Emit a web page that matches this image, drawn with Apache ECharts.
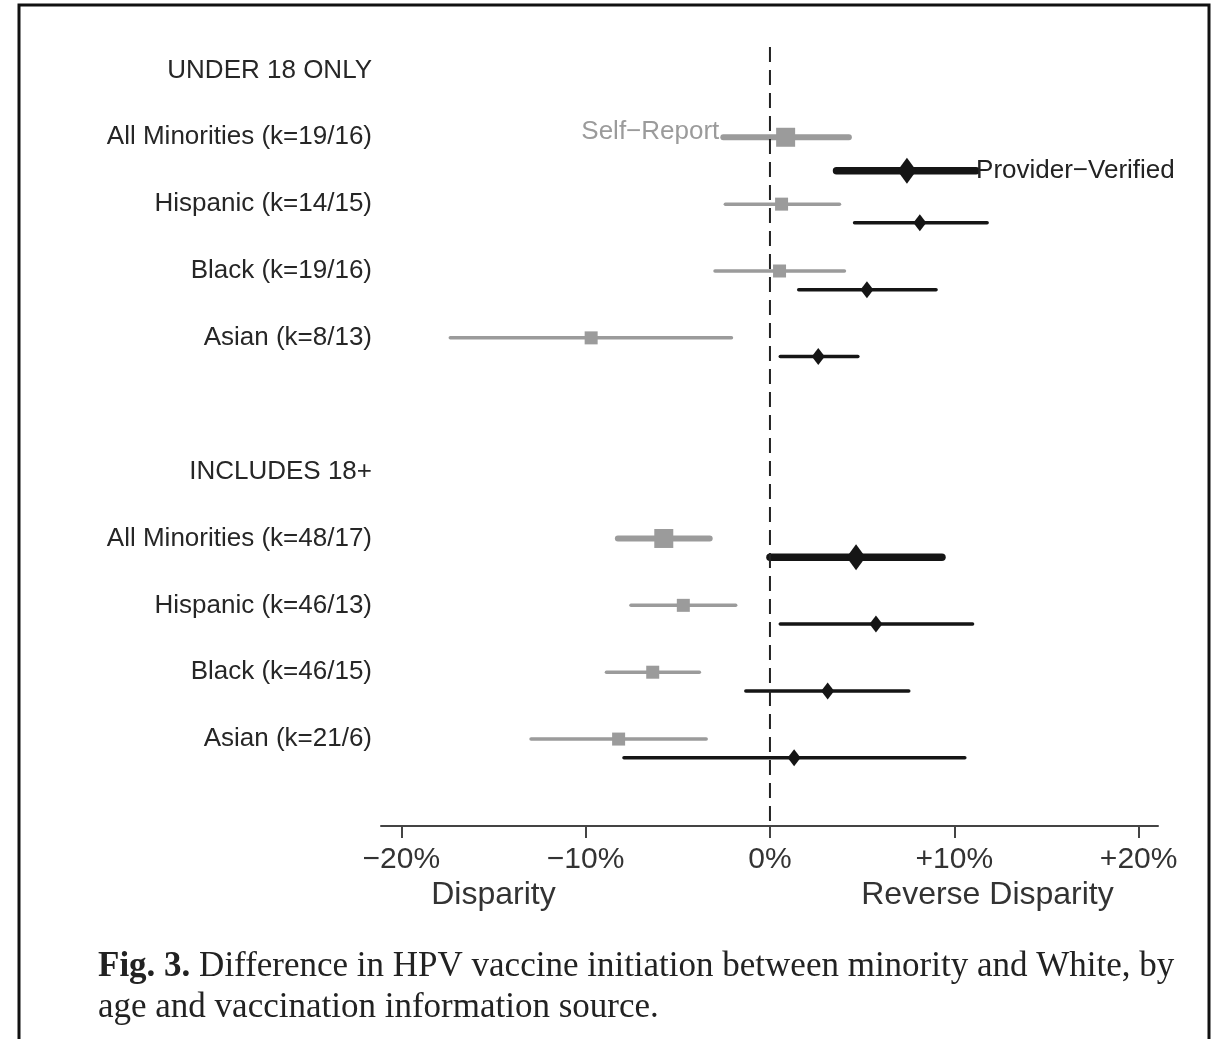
<!DOCTYPE html>
<html>
<head>
<meta charset="utf-8">
<script src="https://cdn.jsdelivr.net/npm/echarts@6/dist/echarts.min.js"></script>
<style>
  html, body { margin: 0; padding: 0; background: #fff; }
  #chart { width: 1217px; height: 1039px; }
</style>
</head>
<body>
<div id="chart"></div>
<script>
// row labels on the y axis (row index = position, row 5 is a blank spacer)
var rowLabels = ['UNDER 18 ONLY', 'All Minorities (k=19/16)', 'Hispanic (k=14/15)', 'Black (k=19/16)', 'Asian (k=8/13)', '',
    'INCLUDES 18+', 'All Minorities (k=48/17)', 'Hispanic (k=46/13)', 'Black (k=46/15)', 'Asian (k=21/6)'];
var labelRows = [0, 1, 2, 3, 4, 6, 7, 8, 9, 10];
var xTicks = [-20, -10, 0, 10, 20];

// Self-Report estimates (% difference) and CI
var srRow = [1, 2, 3, 4, 7, 8, 9, 10];
var srEst = [0.85, 0.63, 0.52, -9.7, -5.76, -4.70, -6.36, -8.21];
var srLo = [-2.53, -2.42, -2.98, -17.34, -8.25, -7.54, -8.87, -12.96];
var srHi = [4.28, 3.77, 4.04, -2.09, -3.27, -1.86, -3.83, -3.46];

// Provider-Verified estimates and CI
var pvRow = [1.5, 2.28, 3.28, 4.28, 7.28, 8.28, 9.28, 10.28];
var pvEst = [7.43, 8.13, 5.26, 2.62, 4.67, 5.75, 3.13, 1.31];
var pvLo = [3.61, 4.59, 1.56, 0.56, 0, 0.56, -1.31, -7.92];
var pvHi = [11.18, 11.78, 9.01, 4.77, 9.33, 10.99, 7.53, 10.57];

var chart = echarts.init(document.getElementById('chart'));

var SANS = '"Liberation Sans", Arial, sans-serif';
var SR_COLOR = '#9b9b9b';
var PV_COLOR = '#151515';

// pooled rows ("All Minorities") are drawn heavier
function isPooled(row) {
    return rowLabels[Math.floor(row)].indexOf('All Minorities') === 0;
}

function makeRender(kind) {
    return function (params, api) {
        var y = api.value(3);
        var lo = api.coord([api.value(0), y]);
        var est = api.coord([api.value(1), y]);
        var hi = api.coord([api.value(2), y]);
        var big = isPooled(y);
        var color = kind === 'sr' ? SR_COLOR : PV_COLOR;
        var children = [{
            type: 'line',
            shape: { x1: lo[0], y1: lo[1], x2: hi[0], y2: hi[1] },
            style: { stroke: color, lineWidth: kind === 'sr' ? (big ? 6 : 3.5) : (big ? 7.5 : 3.5), lineCap: 'round' }
        }];
        if (kind === 'sr') {
            var s = big ? 19 : 13;
            children.push({
                type: 'rect',
                shape: { x: est[0] - s / 2, y: est[1] - s / 2, width: s, height: s },
                style: { fill: color }
            });
        } else {
            var w = big ? 19 : 13, h = big ? 26 : 17;
            children.push({
                type: 'polygon',
                shape: { points: [[est[0], est[1] - h / 2], [est[0] + w / 2, est[1]], [est[0], est[1] + h / 2], [est[0] - w / 2, est[1]]] },
                style: { fill: color }
            });
        }
        // series name next to the first row
        if (params.dataIndex === 0) {
            if (kind === 'sr') {
                children.push({
                    type: 'text',
                    style: { text: 'Self\u2212Report', x: lo[0] - 4, y: lo[1] - 5, align: 'right', verticalAlign: 'middle',
                        fill: SR_COLOR, font: '26px ' + SANS }
                });
            } else {
                children.push({
                    type: 'text',
                    style: { text: 'Provider\u2212Verified', x: hi[0], y: hi[1], align: 'left', verticalAlign: 'middle',
                        fill: '#222', font: '26px ' + SANS }
                });
            }
        }
        return { type: 'group', children: children };
    };
}

var option = {
    animation: false,
    backgroundColor: '#fff',
    grid: { left: 381, right: 59, top: 47, bottom: 213 },
    xAxis: {
        type: 'value',
        min: -21.1,
        max: 21.05,
        position: 'bottom',
        splitLine: { show: false },
        axisLine: { onZero: false, lineStyle: { color: '#444', width: 2 } },
        axisTick: { customValues: xTicks, length: 12, lineStyle: { color: '#444', width: 2 } },
        axisLabel: {
            customValues: xTicks,
            margin: 19,
            fontSize: 30,
            fontFamily: SANS,
            color: '#333',
            formatter: function (v) {
                if (v === 0) return '0%';
                return (v > 0 ? '+' : '\u2212') + Math.abs(v) + '%';
            }
        }
    },
    yAxis: {
        type: 'value',
        inverse: true,
        min: -0.35,
        max: 11.3,
        splitLine: { show: false },
        axisLine: { show: false },
        axisTick: { show: false },
        axisLabel: {
            customValues: labelRows,
            margin: 9,
            fontSize: 26,
            fontFamily: SANS,
            color: '#262626',
            formatter: function (v) { return rowLabels[Math.round(v)]; }
        }
    },
    series: [{
        type: 'line',
        data: [[0, -0.35], [0, 11.3]],
        symbol: 'none',
        silent: true,
        lineStyle: { color: '#222', width: 2, type: [15, 8] }
    }, {
        type: 'custom',
        name: 'Self-Report',
        renderItem: makeRender('sr'),
        encode: { x: [0, 1, 2], y: 3 },
        data: srRow.map(function (r, i) { return [srLo[i], srEst[i], srHi[i], r]; })
    }, {
        type: 'custom',
        name: 'Provider-Verified',
        renderItem: makeRender('pv'),
        encode: { x: [0, 1, 2], y: 3 },
        data: pvRow.map(function (r, i) { return [pvLo[i], pvEst[i], pvHi[i], r]; })
    }]
};

chart.setOption(option);

// axis captions and figure caption
var dispX = chart.convertToPixel({ xAxisIndex: 0 }, -15);
var revX = chart.convertToPixel({ xAxisIndex: 0 }, 11.8);
chart.setOption({
    graphic: [{
        type: 'rect',
        shape: { x: 19, y: 5, width: 1190, height: 1100 },
        style: { fill: null, stroke: '#111', lineWidth: 3 },
        silent: true
    }, {
        type: 'text',
        style: { text: 'Disparity', x: dispX, y: 895, align: 'center', verticalAlign: 'middle', fill: '#333', font: '32px ' + SANS }
    }, {
        type: 'text',
        style: { text: 'Reverse Disparity', x: revX, y: 895, align: 'center', verticalAlign: 'middle', fill: '#333', font: '32px ' + SANS }
    }, {
        type: 'text',
        style: {
            x: 98, y: 946,
            text: '{b|Fig. 3.} Difference in HPV vaccine initiation between minority and White, by\nage and vaccination information source.',
            lineHeight: 41,
            font: '35px "Liberation Serif", "Times New Roman", serif',
            fill: '#222',
            rich: {
                b: { fontWeight: 'bold', fontSize: 35, fontFamily: '"Liberation Serif", serif', lineHeight: 41, fill: '#222' }
            }
        }
    }]
});
</script>
</body>
</html>
